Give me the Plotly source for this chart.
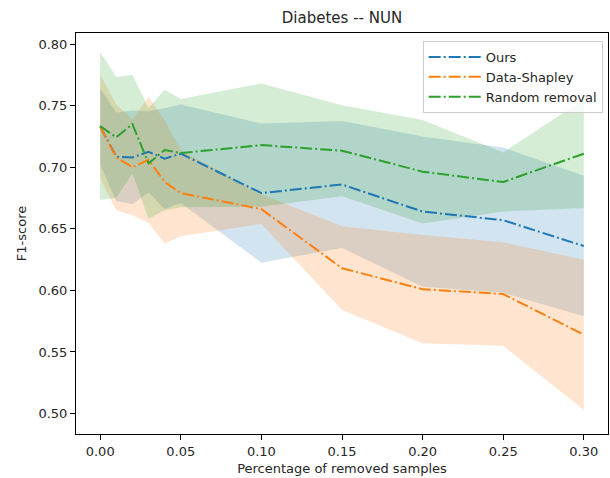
import plotly.graph_objects as go

removed_frac = [0.00, 0.01, 0.02, 0.03, 0.04, 0.05, 0.10, 0.15, 0.20, 0.25, 0.30]

ours_mean = [0.733, 0.7085, 0.708, 0.7125, 0.707, 0.711, 0.679, 0.686, 0.664, 0.657, 0.636]
ours_std = [0.031, 0.036, 0.038, 0.033, 0.041, 0.040, 0.0565, 0.0515, 0.061, 0.059, 0.057]

shapley_mean = [0.733, 0.708, 0.700, 0.706, 0.688, 0.679, 0.666, 0.618, 0.601, 0.597, 0.564]
shapley_std = [0.042, 0.043, 0.039, 0.051, 0.050, 0.035, 0.012, 0.034, 0.044, 0.042, 0.061]

random_mean = [0.7334, 0.7243, 0.735, 0.7032, 0.714, 0.7115, 0.718, 0.7134, 0.6964, 0.688, 0.711]
random_std = [0.060, 0.049, 0.040, 0.045, 0.049, 0.044, 0.050, 0.037, 0.042, 0.024, 0.044]

series = [
    ("Ours", ours_mean, ours_std, "31,119,180"),
    ("Data-Shapley", shapley_mean, shapley_std, "255,127,14"),
    ("Random removal", random_mean, random_std, "44,160,44"),
]

fig = go.Figure()

# bands first (below lines, as in matplotlib)
for name, m, s, rgb in series:
    upper = [a + b for a, b in zip(m, s)]
    lower = [a - b for a, b in zip(m, s)]
    fig.add_trace(go.Scatter(
        x=removed_frac + removed_frac[::-1],
        y=upper + lower[::-1],
        fill="toself",
        fillcolor=f"rgba({rgb},0.2)",
        line=dict(width=0),
        mode="lines",
        hoverinfo="skip",
        showlegend=False,
    ))

for name, m, s, rgb in series:
    fig.add_trace(go.Scatter(
        x=removed_frac, y=m, mode="lines", name=name,
        line=dict(color=f"rgb({rgb})", width=2, dash="12px,3px,2px,3px"),
    ))

font_family = "DejaVu Sans, Arial, sans-serif"
axis_common = dict(
    showline=True, linecolor="black", linewidth=1, mirror=True,
    ticks="outside", ticklen=5, tickcolor="black", tickwidth=1,
    showgrid=False, zeroline=False,
    tickfont=dict(size=13, color="#262626", family=font_family),
    tickformat=".2f",
)

fig.update_layout(
    width=610, height=478,
    margin=dict(l=76, r=2, t=33, b=44),
    paper_bgcolor="white", plot_bgcolor="white",
    font=dict(family=font_family, size=13, color="#262626"),
    title=dict(text="Diabetes -- NUN", x=0.5, xref="paper",
               xanchor="center", y=1 - 18 / 478, yanchor="middle",
               font=dict(size=15, color="#262626", family=font_family)),
    xaxis=dict(range=[-0.015, 0.315], tickvals=[0, 0.05, 0.10, 0.15, 0.20, 0.25, 0.30],
               title=dict(text="Percentage of removed samples", standoff=6,
                          font=dict(size=13, family=font_family)),
               **axis_common),
    yaxis=dict(range=[0.4834, 0.809], tickvals=[0.50, 0.55, 0.60, 0.65, 0.70, 0.75, 0.80],
               title=dict(text="F1-score", standoff=8,
                          font=dict(size=13, family=font_family)),
               **axis_common),
    legend=dict(x=0.99, y=0.98, xanchor="right", yanchor="top",
                bgcolor="rgba(255,255,255,0.8)", bordercolor="#cccccc", borderwidth=1,
                font=dict(size=13, family=font_family), tracegroupgap=0,
                itemwidth=52),
)

fig.write_html("out.html")
